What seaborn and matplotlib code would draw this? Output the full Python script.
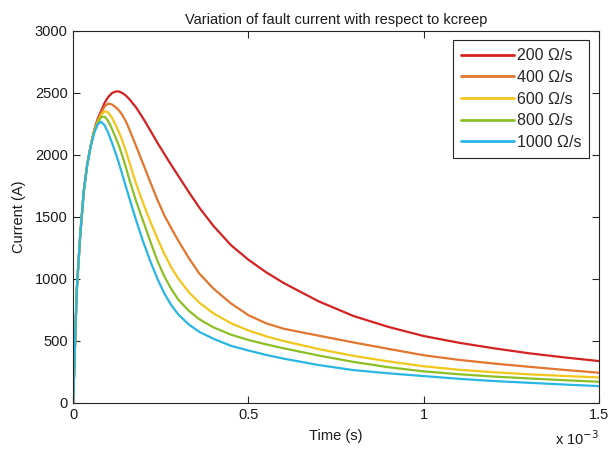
import matplotlib
matplotlib.use("Agg")
import matplotlib.pyplot as plt
import seaborn as sns
import pandas as pd
from matplotlib.ticker import FuncFormatter

# time in ms (axis shows x 10^-3 s)
time_ms = [0, 0.005, 0.01, 0.02, 0.03, 0.04, 0.05, 0.06, 0.07, 0.08, 0.09, 0.10,
           0.11, 0.12, 0.13, 0.14, 0.15, 0.16, 0.18, 0.20, 0.22, 0.24, 0.26, 0.28,
           0.30, 0.33, 0.36, 0.40, 0.45, 0.50, 0.55, 0.60, 0.70, 0.80, 0.90, 1.00,
           1.10, 1.20, 1.30, 1.40, 1.50]

i_200 = [0, 450, 900, 1350, 1700, 1920, 2075, 2200, 2290, 2355, 2420, 2465,
         2495, 2508, 2510, 2497, 2477, 2448, 2378, 2290, 2195, 2097, 2005, 1915,
         1828, 1697, 1572, 1425, 1270, 1152, 1052, 965, 817, 698, 610, 537,
         483, 438, 398, 365, 335]
i_400 = [0, 450, 900, 1350, 1700, 1920, 2072, 2195, 2275, 2340, 2390, 2412,
         2405, 2385, 2358, 2320, 2270, 2205, 2065, 1922, 1777, 1637, 1510, 1405,
         1305, 1165, 1040, 920, 800, 705, 640, 596, 540, 485, 433, 382,
         345, 315, 289, 264, 241]
i_600 = [0, 450, 900, 1350, 1700, 1920, 2070, 2190, 2265, 2322, 2350, 2340,
         2300, 2245, 2185, 2112, 2032, 1940, 1760, 1605, 1460, 1325, 1200, 1090,
         1000, 890, 805, 720, 640, 582, 535, 497, 432, 377, 332, 293,
         265, 245, 228, 215, 203]
i_800 = [0, 450, 900, 1350, 1700, 1920, 2068, 2185, 2255, 2305, 2305, 2270,
         2212, 2145, 2075, 1992, 1900, 1800, 1620, 1460, 1300, 1145, 1018, 915,
         830, 740, 672, 607, 548, 505, 470, 438, 380, 328, 285, 252,
         229, 210, 195, 181, 168]
i_1000 = [0, 450, 900, 1350, 1700, 1920, 2065, 2175, 2245, 2265, 2235, 2175,
          2100, 2020, 1935, 1840, 1745, 1650, 1465, 1295, 1140, 1000, 880, 785,
          710, 630, 570, 515, 458, 420, 385, 355, 303, 262, 236, 214,
          192, 174, 160, 146, 133]

labels = ["200 \u03a9/s", "400 \u03a9/s", "600 \u03a9/s", "800 \u03a9/s", "1000 \u03a9/s"]
colors = ["#d42222", "#e2762e", "#f2c61c", "#8cbf26", "#29b6e3"]
series = [i_200, i_400, i_600, i_800, i_1000]

frames = []
for lab, vals in zip(labels, series):
    frames.append(pd.DataFrame({"t": time_ms, "I": vals, "k": lab}))
df = pd.concat(frames, ignore_index=True)

sns.set_theme(style="white")
plt.rcParams["font.family"] = ["Liberation Sans", "DejaVu Sans"]

fig = plt.figure(figsize=(6.1, 4.57), dpi=100)
ax = fig.add_axes([0.120, 0.119, 0.862, 0.814])

sns.lineplot(data=df, x="t", y="I", hue="k", palette=colors, hue_order=labels,
             linewidth=1.6, ax=ax, sort=False, estimator=None)

ax.set_xlim(0, 1.5)
ax.set_ylim(0, 3000)
ax.set_xticks([0, 0.5, 1, 1.5])
ax.set_yticks([0, 500, 1000, 1500, 2000, 2500, 3000])
ax.xaxis.set_major_formatter(FuncFormatter(lambda v, p: "%g" % v))
ax.tick_params(direction="in", length=5, width=0.8, colors="#262626",
               labelsize=10.5, top=True, right=True, bottom=True, left=True,
               labelcolor="#1a1a1a", pad=4)
for s in ax.spines.values():
    s.set_color("#262626")
    s.set_linewidth(0.8)
ax.grid(False)

ax.set_xlabel("Time (s)", fontsize=10.5, color="#1a1a1a", labelpad=5)
ax.set_ylabel("Current (A)", fontsize=10.5, color="#1a1a1a", labelpad=6)
ax.set_title("Variation of fault current with respect to kcreep", fontsize=10.5,
             color="#1a1a1a", pad=5)
ax.text(1.0, -0.113, "x 10$^{-3}$", transform=ax.transAxes, ha="right",
        va="baseline", fontsize=10.5, color="#1a1a1a")

leg = ax.legend(loc="upper right", fontsize=11.5, frameon=True, fancybox=False,
                edgecolor="#262626", framealpha=1, handlelength=3.3,
                labelspacing=0.42, borderaxespad=0.6, handletextpad=0.2,
                borderpad=0.5)
leg.get_frame().set_linewidth(0.8)
for line in leg.get_lines():
    line.set_linewidth(2.0)

fig.savefig("out.png", dpi=100)
